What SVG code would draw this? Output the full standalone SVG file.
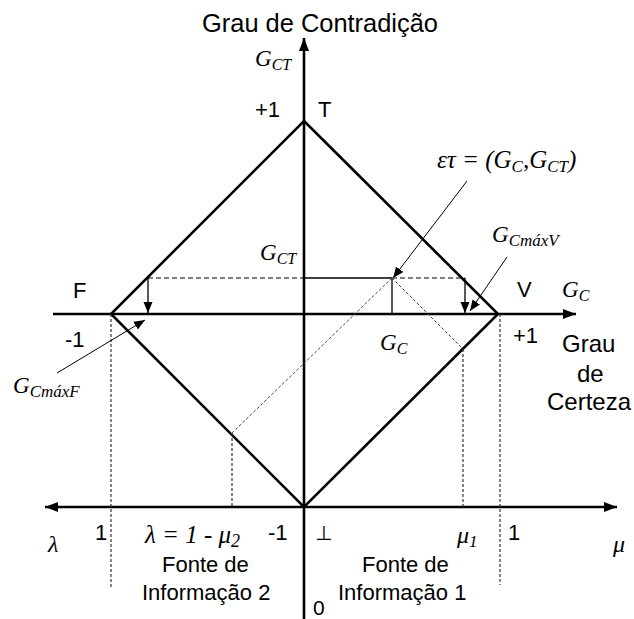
<svg xmlns="http://www.w3.org/2000/svg" width="634" height="619" viewBox="0 0 634 619">
<defs>
<style>
.bg{fill:#fff}
.axis{stroke:#000;stroke-width:2.6;fill:none}
.dia{stroke:#000;stroke-width:2.6;fill:none}
.thin{stroke:#000;stroke-width:1.3;fill:none}
.dash{stroke:#000;stroke-width:1.2;fill:none;stroke-dasharray:5 3}
.vdash{stroke:#333;stroke-width:1.2;fill:none;stroke-dasharray:3 2}
.ddash{stroke:#444;stroke-width:1;fill:none;stroke-dasharray:3 2}
.ptr{stroke:#000;stroke-width:1;fill:none}
.sans{font-family:"Liberation Sans",Arial,sans-serif;fill:#000}
.math{font-family:"Liberation Serif","Times New Roman",serif;font-style:italic;fill:#000}
.sym{font-family:"DejaVu Sans",sans-serif;fill:#000}
</style>
<marker id="ah" markerUnits="userSpaceOnUse" markerWidth="14" markerHeight="12" refX="13" refY="6" orient="auto-start-reverse">
<path d="M0,1 L13,6 L0,11 z" fill="#000"/>
</marker>
<marker id="ps" markerUnits="userSpaceOnUse" markerWidth="12" markerHeight="10" refX="11" refY="5" orient="auto">
<path d="M0,0.5 L11,5 L0,9.5 z" fill="#000"/>
</marker>
</defs>
<rect class="bg" width="634" height="619"/>

<g id="connectors">
<line class="axis" x1="304" y1="619" x2="304" y2="38" marker-end="url(#ah)"/>
<line class="axis" x1="53" y1="314" x2="576" y2="314" marker-end="url(#ah)"/>
<line class="axis" x1="45" y1="507" x2="617" y2="507" marker-start="url(#ah)" marker-end="url(#ah)"/>
<path class="dia" d="M304,121 L498,314 L304,507 L111,314 Z"/>
<line class="dash" x1="148" y1="278" x2="304" y2="278"/>
<line class="thin" x1="304" y1="278" x2="392" y2="278"/>
<line class="dash" x1="392" y1="278" x2="465" y2="278"/>
<line class="thin" x1="392" y1="278" x2="392" y2="314"/>
<line class="thin" x1="148" y1="278" x2="148" y2="313" marker-end="url(#ps)"/>
<line class="thin" x1="465" y1="278" x2="465" y2="313" marker-end="url(#ps)"/>
<line class="ddash" x1="392" y1="278" x2="232" y2="433"/>
<line class="ddash" x1="392" y1="278" x2="463" y2="349"/>
<line class="vdash" x1="232" y1="433" x2="232" y2="507"/>
<line class="vdash" x1="463" y1="349" x2="463" y2="507"/>
<line class="vdash" x1="111" y1="314" x2="111" y2="587"/>
<line class="vdash" x1="500" y1="314" x2="500" y2="585"/>
<line class="ptr" x1="467" y1="181" x2="393" y2="278" marker-end="url(#ps)"/>
<line class="ptr" x1="507" y1="257" x2="470" y2="311" marker-end="url(#ps)"/>
<line class="ptr" x1="57" y1="373" x2="145" y2="320" marker-end="url(#ps)"/>
</g>

<g id="title"><text class="sans" x="202" y="32" font-size="25" textLength="236" lengthAdjust="spacingAndGlyphs">Grau de Contradição</text></g>
<g id="gct-top"><text class="math" x="255" y="66" font-size="23">G<tspan font-size="16" dy="4">CT</tspan></text></g>
<g id="T"><text class="sans" x="255" y="117" font-size="22">+1</text><text class="sans" x="318" y="117" font-size="22">T</text></g>
<g id="et"><text class="math" x="437" y="168" font-size="25">ετ = (G<tspan font-size="17" dy="4">C</tspan><tspan dy="-4">,G</tspan><tspan font-size="17" dy="4">CT</tspan><tspan dy="-4">)</tspan></text></g>
<g id="gcmaxv"><text class="math" x="492" y="242" font-size="23">G<tspan font-size="17" dy="4">CmáxV</tspan></text></g>
<g id="gct-mid"><text class="math" x="260" y="260" font-size="23">G<tspan font-size="16" dy="4">CT</tspan></text></g>
<g id="V"><text class="sans" x="517" y="297" font-size="22">V</text><text class="math" x="562" y="297" font-size="23">G<tspan font-size="16" dy="4">C</tspan></text></g>
<g id="F"><text class="sans" x="73" y="298" font-size="22">F</text><text class="sans" x="65" y="347" font-size="22">-1</text></g>
<g id="plus1"><text class="sans" x="513" y="343" font-size="22">+1</text></g>
<g id="certeza"><text class="sans" font-size="24" x="562" y="352">Grau</text><text class="sans" font-size="24" x="577" y="382">de</text><text class="sans" font-size="24" x="547" y="410">Certeza</text></g>
<g id="gc-mid"><text class="math" x="380" y="350" font-size="23">G<tspan font-size="16" dy="4">C</tspan></text></g>
<g id="gcmaxf"><text class="math" x="13" y="393" font-size="23">G<tspan font-size="17" dy="4">CmáxF</tspan></text></g>

<g id="bottom-left">
<text class="math" x="48" y="552" font-size="24">λ</text>
<text class="sans" x="95" y="540" font-size="22">1</text>
<text class="math" x="145" y="543" font-size="25">λ = 1 - μ<tspan font-size="18" dy="4">2</tspan></text>
<text class="sans" x="268" y="540" font-size="22">-1</text>
<text class="sans" x="162" y="572" font-size="22">Fonte de</text>
<text class="sans" x="142" y="600" font-size="22">Informação 2</text>
</g>
<g id="bottom-right">
<text class="sym" x="315" y="540" font-size="20">⊥</text>
<text class="math" x="457" y="543" font-size="24">μ<tspan font-size="17" dy="4">1</tspan></text>
<text class="sans" x="508" y="540" font-size="22">1</text>
<text class="math" x="613" y="552" font-size="24">μ</text>
<text class="sans" x="362" y="572" font-size="22">Fonte de</text>
<text class="sans" x="338" y="600" font-size="22">Informação 1</text>
<text class="sans" x="313" y="615" font-size="21">0</text>
</g>
</svg>
